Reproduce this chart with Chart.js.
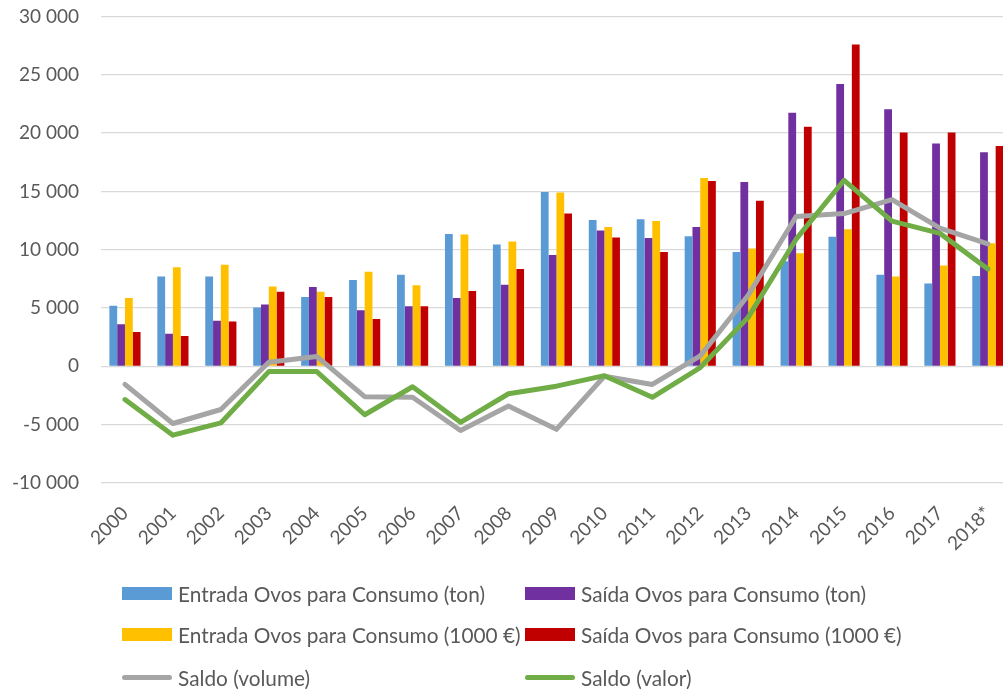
<!DOCTYPE html>
<html>
<head>
<meta charset="utf-8">
<script src="https://cdn.jsdelivr.net/npm/chart.js@4"></script>
<style>
  html, body { margin: 0; padding: 0; background: #fff; overflow: hidden; }
  #wrap { position: relative; width: 1003px; height: 692px; overflow: hidden; }
  #box { position: absolute; left: 0; top: -17px; width: 1023px; height: 709px; }
  #legend { position: absolute; left: 0; top: 0; width: 1003px; height: 692px; pointer-events: none;
            font-family: Lato, "Open Sans", sans-serif; font-size: 20.8px; color: #595959; }
  .li { position: absolute; display: flex; align-items: center; height: 24px; white-space: nowrap; }
  .sw { width: 50px; height: 13px; margin-right: 6px; }
  .ln { width: 50px; height: 5px; border-radius: 3px; margin-right: 6px; }
</style>
</head>
<body>
<div id="wrap">
  <div id="box"><canvas id="c" width="1023" height="709"></canvas></div>
  <div id="legend"></div>
</div>
<script>
const categories = ["2000","2001","2002","2003","2004","2005","2006","2007","2008","2009","2010","2011","2012","2013","2014","2015","2016","2017","2018*"];
const entradaTon  = [5200,7700,7700,5050,5950,7400,7850,11350,10450,14950,12550,12600,11150,9800,9000,11100,7850,7100,7750];
const saidaTon    = [3600,2800,3900,5300,6800,4800,5150,5850,7000,9550,11650,11000,11950,15800,21750,24200,22050,19100,18350];
const entradaEur  = [5850,8500,8700,6850,6400,8100,6950,11300,10700,14900,11950,12450,16150,10100,9700,11750,7700,8650,10550];
const saidaEur    = [2950,2600,3850,6400,5950,4050,5150,6450,8350,13100,11050,9800,15900,14200,20550,27600,20050,20050,18900];
const saldoVolume = [-1550,-4900,-3700,350,850,-2600,-2650,-5500,-3400,-5400,-850,-1550,900,6100,12850,13100,14300,11850,10500];
const saldoValor  = [-2850,-5900,-4850,-450,-450,-4150,-1750,-4800,-2350,-1700,-800,-2650,-100,4200,10900,15950,12450,11400,8350];
const yTicks = [-10000,-5000,0,5000,10000,15000,20000,25000,30000];

const fmt = v => {
  const s = Math.abs(v).toString().replace(/\B(?=(\d{3})+(?!\d))/g, " ");
  return (v < 0 ? "-" : "") + s;
};

const datasets = [
  { type: "bar", label: "Entrada Ovos para Consumo (ton)", data: entradaTon, backgroundColor: "#5B9BD5", order: 2 },
  { type: "bar", label: "Saída Ovos para Consumo (ton)", data: saidaTon, backgroundColor: "#7030A0", order: 2 },
  { type: "bar", label: "Entrada Ovos para Consumo (1000 €)", data: entradaEur, backgroundColor: "#FFC000", order: 2 },
  { type: "bar", label: "Saída Ovos para Consumo (1000 €)", data: saidaEur, backgroundColor: "#C00000", order: 2 },
  { type: "line", label: "Saldo (volume)", data: saldoVolume, borderColor: "#A5A5A5", backgroundColor: "#A5A5A5",
    borderWidth: 5, pointRadius: 0, tension: 0, borderCapStyle: "round", borderJoinStyle: "round", order: 1 },
  { type: "line", label: "Saldo (valor)", data: saldoValor, borderColor: "#70AD47", backgroundColor: "#70AD47",
    borderWidth: 5, pointRadius: 0, tension: 0, borderCapStyle: "round", borderJoinStyle: "round", order: 0 }
];
datasets.forEach(d => { if (d.type === "bar") { d.barPercentage = 1.0; d.categoryPercentage = 0.65; } });

const chart = new Chart(document.getElementById("c"), {
  data: { labels: categories, datasets },
  options: {
    responsive: false,
    animation: false,
    layout: { padding: { top: 16, right: 0, left: 0, bottom: 0 } },
    plugins: { legend: { display: false }, tooltip: { enabled: false } },
    scales: {
      x: {
        grid: { display: false, drawTicks: false },
        border: { display: false },
        ticks: { color: "#595959", font: { family: "Lato", size: 19 }, maxRotation: 45, minRotation: 45, padding: 19, autoSkip: false },
        afterFit: s => { s.height = 709 - 500; }
      },
      y: {
        min: -10000, max: 30000,
        afterBuildTicks: s => { s.ticks = yTicks.map(v => ({ value: v })); },
        grid: { color: "#D9D9D9", lineWidth: 1.3, drawTicks: false },
        border: { display: false },
        ticks: { color: "#595959", font: { family: "Lato", size: 19 }, padding: 22, callback: v => fmt(v) },
        afterFit: s => { s.width = 101; }
      }
    }
  }
});

const pos = [[122, 581], [525, 581], [122, 622], [525, 622], [122, 665], [525, 665]];
const leg = document.getElementById("legend");
chart.data.datasets.forEach((d, i) => {
  const el = document.createElement("div");
  el.className = "li";
  el.style.left = pos[i][0] + "px";
  el.style.top = pos[i][1] + "px";
  const sw = document.createElement("span");
  sw.className = d.type === "bar" ? "sw" : "ln";
  sw.style.background = d.type === "bar" ? d.backgroundColor : d.borderColor;
  const tx = document.createElement("span");
  tx.textContent = d.label;
  el.appendChild(sw); el.appendChild(tx);
  leg.appendChild(el);
});
</script>
</body>
</html>
